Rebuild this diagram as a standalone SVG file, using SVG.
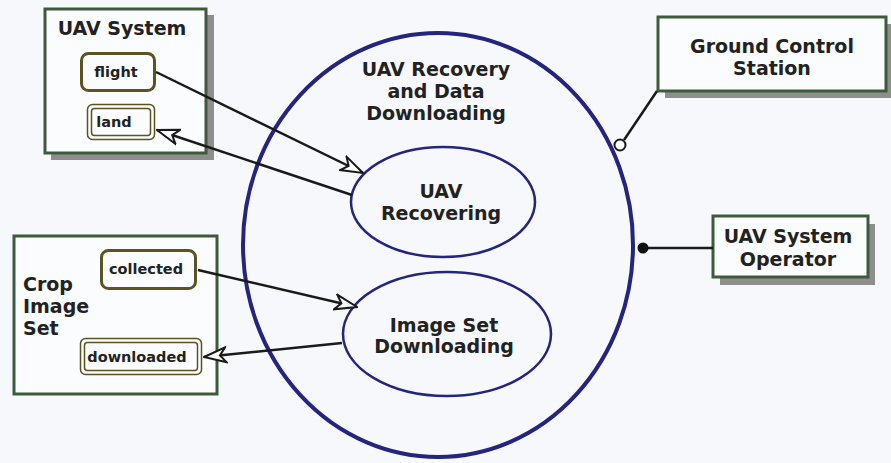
<svg xmlns="http://www.w3.org/2000/svg" width="891" height="463" viewBox="0 0 891 463">
<style>
text{font-family:"DejaVu Sans","Liberation Sans",sans-serif;font-weight:bold;fill:#222;}
.big{font-size:19px;}
.sm{font-size:14.5px;}
.mid{text-anchor:middle;}
.box{fill:#fbfcfe;stroke:#3d5a3a;stroke-width:3;}
.shadow{fill:#8e8e8e;}
.st{fill:#fbfcfe;stroke:#5b5322;stroke-width:3;}
.st2{fill:none;stroke:#5b5322;stroke-width:1.5;}
.uc{fill:none;stroke:#25257f;}
.conn{stroke:#1a1a1a;stroke-width:2.5;fill:none;}
</style>
<defs>
<marker id="arr" viewBox="0 0 24 18" refX="23" refY="9" markerWidth="24" markerHeight="18" markerUnits="userSpaceOnUse" orient="auto">
<path d="M1,1.5 L23,9 L1,16.5 L7,9 Z" fill="#fbfcfe" stroke="#1a1a1a" stroke-width="2" stroke-linejoin="miter"/>
</marker>
</defs>
<rect width="891" height="463" fill="#f7f8fc"/>

<g id="uav-system">
<rect class="shadow" x="51" y="15" width="163" height="145"/>
<rect class="box" x="45" y="9" width="161" height="144"/>
<text class="big mid" x="122" y="35">UAV System</text>
<g id="flight">
<rect class="st" x="81.5" y="53.5" width="73" height="37" rx="7"/>
<text class="sm mid" x="116" y="77">flight</text>
</g>
<g id="land">
<rect class="st2" x="87.5" y="104.5" width="67" height="35" rx="5"/>
<rect class="st2" x="91.5" y="108.5" width="59" height="27" rx="3"/>
<text class="sm mid" x="114" y="127">land</text>
</g>
</g>

<g id="crop-image-set">
<rect class="box" x="14" y="236" width="203" height="158" stroke-width="3.5"/>
<text class="big" x="23" y="291">Crop</text>
<text class="big" x="23" y="313">Image</text>
<text class="big" x="23" y="335">Set</text>
<g id="collected">
<rect class="st" x="101.5" y="250.5" width="94" height="38" rx="7"/>
<text class="sm mid" x="146" y="274">collected</text>
</g>
<g id="downloaded">
<rect class="st2" x="80.5" y="338.5" width="121" height="36" rx="5"/>
<rect class="st2" x="84.5" y="342.5" width="113" height="28" rx="3"/>
<text class="sm mid" x="137" y="362">downloaded</text>
</g>
</g>

<g id="ground-control-station">
<rect class="shadow" x="665" y="24" width="230" height="74"/>
<rect class="box" x="658" y="17" width="228" height="74"/>
<text class="big mid" x="772" y="53">Ground Control</text>
<text class="big mid" x="772" y="75">Station</text>
</g>

<g id="uav-system-operator">
<rect class="shadow" x="720" y="224" width="155" height="61"/>
<rect class="box" x="713" y="216" width="155" height="61"/>
<text class="big mid" x="788" y="243">UAV System</text>
<text class="big mid" x="788" y="266">Operator</text>
</g>

<g id="uav-recovery-and-data-downloading">
<ellipse class="uc" cx="438" cy="245" rx="195" ry="212" stroke-width="4"/>
<text class="big mid" x="436" y="76">UAV Recovery</text>
<text class="big mid" x="436" y="98">and Data</text>
<text class="big mid" x="436" y="120">Downloading</text>
</g>

<g id="uav-recovering">
<ellipse class="uc" cx="443" cy="202" rx="92" ry="55" stroke-width="2.5"/>
<text class="big mid" x="441" y="198">UAV</text>
<text class="big mid" x="441" y="220">Recovering</text>
</g>

<g id="image-set-downloading">
<ellipse class="uc" cx="447" cy="334" rx="104" ry="62" stroke-width="2.5"/>
<text class="big mid" x="444" y="332">Image Set</text>
<text class="big mid" x="444" y="353">Downloading</text>
</g>

<g id="connectors">
<line class="conn" x1="156" y1="72" x2="363" y2="173" marker-end="url(#arr)"/>
<line class="conn" x1="352" y1="195" x2="157" y2="130" marker-end="url(#arr)"/>
<line class="conn" x1="198" y1="270" x2="357" y2="307" marker-end="url(#arr)"/>
<line class="conn" x1="342" y1="343" x2="204" y2="357" marker-end="url(#arr)"/>
<line class="conn" x1="657" y1="91" x2="624" y2="140"/>
<circle cx="620" cy="145" r="5.5" fill="#fff" stroke="#1a1a1a" stroke-width="2"/>
<line class="conn" x1="643" y1="248" x2="713" y2="248"/>
<circle cx="643" cy="248" r="5.5" fill="#111"/>
</g>
</svg>
